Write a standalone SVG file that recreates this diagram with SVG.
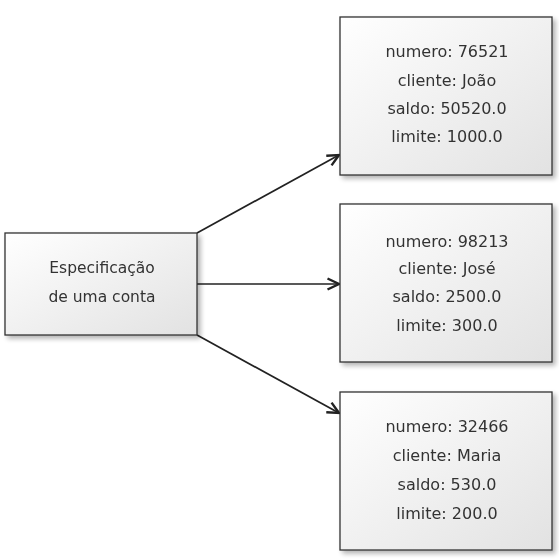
<svg xmlns="http://www.w3.org/2000/svg" width="559" height="559" viewBox="0 0 559 559">
<style>
.box{fill:url(#g);stroke:#333;stroke-width:1.3}
.t{font-family:"DejaVu Sans",Verdana,sans-serif;font-size:16px;fill:#333;text-anchor:middle}
.l{font-size:15.5px}
.c{stroke:#222;stroke-width:1.7;fill:none;marker-end:url(#a)}
</style>
<defs>
<linearGradient id="g" x1="0" y1="0" x2="1" y2="1">
<stop offset="0" stop-color="#ffffff"/>
<stop offset="1" stop-color="#e2e2e2"/>
</linearGradient>
<filter id="s" x="-10%" y="-10%" width="130%" height="130%">
<feGaussianBlur in="SourceAlpha" stdDeviation="2.5"/>
<feOffset dx="3" dy="3"/>
<feComponentTransfer><feFuncA type="linear" slope="0.3"/></feComponentTransfer>
<feMerge><feMergeNode/><feMergeNode in="SourceGraphic"/></feMerge>
</filter>
<marker id="a" markerWidth="16" markerHeight="14" refX="13" refY="7" orient="auto" markerUnits="userSpaceOnUse">
<path d="M1.5,1.5 L13,7 L1.5,12.5" fill="none" stroke="#222" stroke-width="2.4" stroke-linejoin="miter"/>
</marker>
</defs>
<rect width="559" height="559" fill="#fff"/>
<g id="connectors">
<path class="c" d="M197,233 L339,155"/>
<path class="c" d="M197,284 L339,284"/>
<path class="c" d="M197,335 L339,413"/>
</g>
<g id="spec" filter="url(#s)">
<rect class="box" x="5" y="233" width="192" height="102"/>
<text class="t l" x="102" y="273">Especificação</text>
<text class="t l" x="102" y="302">de uma conta</text>
</g>
<g id="conta1" filter="url(#s)">
<rect class="box" x="340" y="17" width="212" height="158"/>
<text class="t" x="447" y="57">numero: 76521</text>
<text class="t" x="447" y="86">cliente: João</text>
<text class="t" x="447" y="114">saldo: 50520.0</text>
<text class="t" x="447" y="142">limite: 1000.0</text>
</g>
<g id="conta2" filter="url(#s)">
<rect class="box" x="340" y="204" width="212" height="158"/>
<text class="t" x="447" y="247">numero: 98213</text>
<text class="t" x="447" y="274">cliente: José</text>
<text class="t" x="447" y="302">saldo: 2500.0</text>
<text class="t" x="447" y="331">limite: 300.0</text>
</g>
<g id="conta3" filter="url(#s)">
<rect class="box" x="340" y="392" width="212" height="158"/>
<text class="t" x="447" y="432">numero: 32466</text>
<text class="t" x="447" y="461">cliente: Maria</text>
<text class="t" x="447" y="490">saldo: 530.0</text>
<text class="t" x="447" y="519">limite: 200.0</text>
</g>
</svg>
